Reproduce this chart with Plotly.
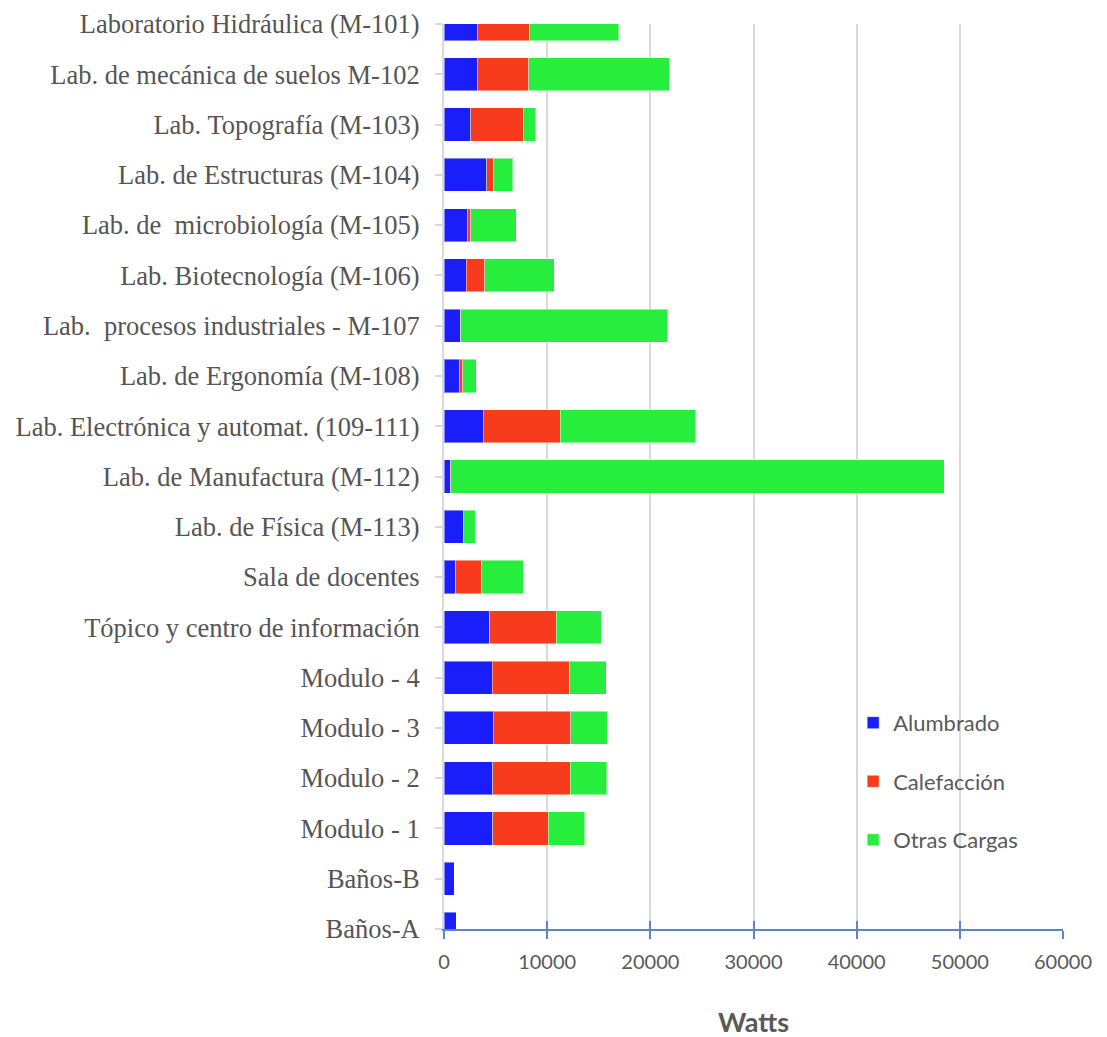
import plotly.graph_objects as go

categories = [
    "Laboratorio Hidráulica (M-101)",
    "Lab. de mecánica de suelos M-102",
    "Lab. Topografía (M-103)",
    "Lab. de Estructuras (M-104)",
    "Lab. de \u00a0microbiología (M-105)",
    "Lab. Biotecnología (M-106)",
    "Lab. \u00a0procesos industriales - M-107",
    "Lab. de Ergonomía (M-108)",
    "Lab. Electrónica y automat. (109-111)",
    "Lab. de Manufactura (M-112)",
    "Lab. de Física (M-113)",
    "Sala de docentes",
    "Tópico y centro de información",
    "Modulo - 4",
    "Modulo - 3",
    "Modulo - 2",
    "Modulo - 1",
    "Baños-B",
    "Baños-A",
]

alumbrado = [3200, 3200, 2600, 4150, 2270, 2180, 1620, 1460, 3800, 650, 1850, 1140, 4450, 4680, 4770, 4740, 4740, 1000, 1170]
calefaccion = [5050, 5030, 5070, 680, 320, 1790, 0, 360, 7470, 0, 0, 2530, 6430, 7530, 7500, 7500, 5360, 0, 0]
otras_cargas = [8700, 13600, 1230, 1850, 4420, 6720, 20060, 1300, 13150, 47850, 1170, 3990, 4380, 3540, 3540, 3540, 3540, 0, 0]

x_ticks = [0, 10000, 20000, 30000, 40000, 50000, 60000]

series = [
    ("Alumbrado", alumbrado, "#1A1EFB"),
    ("Calefacción", calefaccion, "#F83B1C"),
    ("Otras Cargas", otras_cargas, "#27EE3D"),
]

fig = go.Figure()
for name, vals, color in series:
    fig.add_trace(go.Bar(
        y=categories, x=vals, name=name, orientation="h",
        legendgroup=name,
        marker=dict(color=color, line=dict(color="rgba(255,255,255,0.45)", width=1)),
    ))

# empty trace so the overlay axis (inside half of the crossing ticks) is drawn
fig.add_trace(go.Bar(x=[], y=[], xaxis="x2", yaxis="y", showlegend=False, hoverinfo="skip"))

fig.update_layout(
    width=1107, height=1037,
    barmode="stack", bargap=0.34,
    plot_bgcolor="white", paper_bgcolor="white",
    margin=dict(l=444, r=44, t=24, b=108, autoexpand=False),
    showlegend=True,
    legend=dict(
        x=0.661, y=0.251, xanchor="left", yanchor="top",
        traceorder="grouped", tracegroupgap=27,
        font=dict(family="Lato", size=22, color="#595959"),
        bgcolor="rgba(0,0,0,0)",
    ),
    xaxis=dict(
        range=[0, 60000], tickvals=x_ticks, ticktext=[str(v) for v in x_ticks],
        showgrid=True, gridcolor="#D9D9D9", gridwidth=2, zeroline=False,
        showline=True, linecolor="#5A86C5", linewidth=2,
        ticks="outside", ticklen=8, tickwidth=2, tickcolor="#5A86C5",
        tickfont=dict(family="Lato", size=20, color="#595959"),
        ticklabelstandoff=6, automargin=False,
    ),
    xaxis2=dict(
        overlaying="x", matches="x", anchor="y", side="bottom",
        range=[0, 60000], tickvals=x_ticks, showticklabels=False,
        showgrid=False, zeroline=False, showline=False,
        ticks="inside", ticklen=8, tickwidth=2, tickcolor="#5A86C5",
        automargin=False,
    ),
    yaxis=dict(
        type="category", categoryorder="array", categoryarray=categories,
        range=[len(categories) - 1, 0],
        showgrid=False, zeroline=False,
        showline=True, linecolor="#D9D9D9", linewidth=2,
        ticks="outside", ticklen=7, tickwidth=2, tickcolor="#D9D9D9",
        tickfont=dict(family="Liberation Serif", size=26.5, color="#555555"),
        ticklabelstandoff=10, automargin=False,
    ),
    annotations=[dict(
        text="<b>Watts</b>", xref="paper", yref="paper", x=0.5, y=-0.102,
        xanchor="center", yanchor="middle", showarrow=False,
        font=dict(family="Lato", size=27, color="#595959"),
    )],
)

fig.write_html("out.html", config={"displayModeBar": False},
               post_script="document.body.style.margin='0';")
